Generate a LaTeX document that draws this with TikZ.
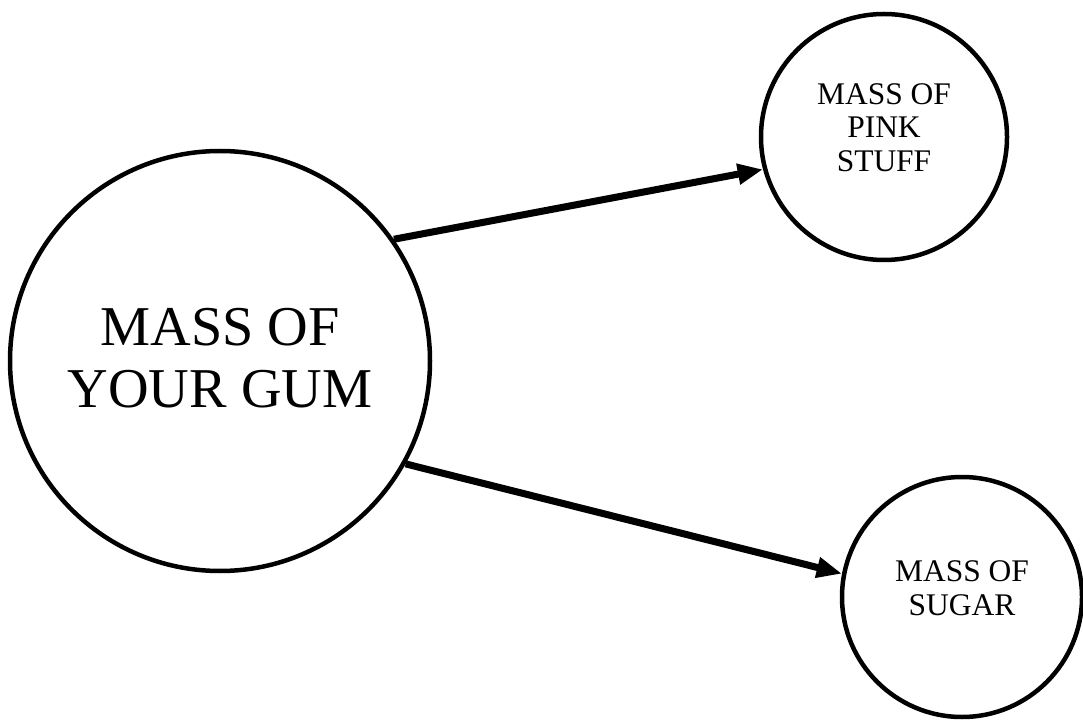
\documentclass[tikz,border=0pt]{standalone}
\usepackage{fontspec}
\setmainfont{Liberation Serif}
\usepackage{tikz}
\usetikzlibrary{arrows.meta,positioning,calc}

\begin{document}
\begin{tikzpicture}[
		mass/.style={circle, draw, line width=3.2pt, inner sep=0pt, align=center},
		flow/.style={line width=5pt, -{Triangle[length=18pt, width=14pt]}}]
		\useasboundingbox (0,0) rectangle (27.075,17.975);
		\node[mass, minimum size=10.5cm, text depth=4pt, font=\fontsize{40}{44}\selectfont] (gum) at (5.5,8.95) {MASS OF\\YOUR GUM};
		\node[mass, minimum size=6.15cm, text depth=13.5pt, font=\fontsize{22.4}{23.8}\selectfont] (pink) at (22.1,14.55) {MASS OF\\PINK\\STUFF};
		\node[mass, minimum size=6cm, text depth=13pt, font=\fontsize{22.4}{23.8}\selectfont] (sugar) at (24.05,3.05) {MASS OF\\SUGAR};
		\draw[flow] (gum.35.6) -- (pink.195);
		\draw[flow] (gum.331.8) -- (sugar.169.6);
	\end{tikzpicture}
\end{document}
